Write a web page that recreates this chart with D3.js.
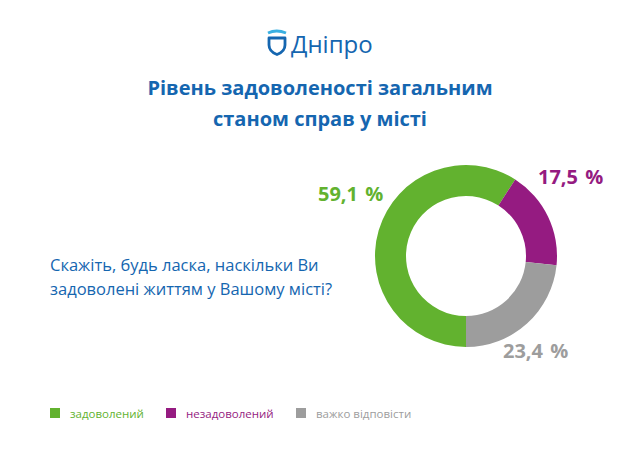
<!DOCTYPE html>
<html>
<head>
<meta charset="utf-8">
<script src="https://cdn.jsdelivr.net/npm/d3@7"></script>
<style>
  body { margin: 0; background: #fff; }
  svg { display: block; font-family: "Open Sans", "Noto Sans", sans-serif; }
</style>
</head>
<body>
<div id="chart"></div>
<script>
// data
var categories = ["задоволений", "незадоволений", "важко відповісти"];
var shares = [59.1, 17.5, 23.4];
var shareLabels = ["59,1 %", "17,5 %", "23,4 %"];
var colors = ["#62b22f", "#951b81", "#9d9d9d"];

var titleLines = ["Рівень задоволеності загальним", "станом справ у місті"];
var questionLines = ["Скажіть, будь ласка, наскільки Ви", "задоволені життям у Вашому місті?"];

var WIDTH = 640, HEIGHT = 452;
var blue = "#1566b0";

var svg = d3.select("#chart").append("svg")
    .attr("width", WIDTH)
    .attr("height", HEIGHT);

// logo
var logo = svg.append("g").attr("transform", "translate(267,28)");
logo.append("path")
    .attr("d", "M1,5 Q9.5,1 19,5")
    .attr("fill", "none").attr("stroke", "#3ab0e2").attr("stroke-width", 2.8);
logo.append("path")
    .attr("d", "M2,10 L18,10 L18,17 Q18,23.5 10,26.5 Q2,23.5 2,17 Z")
    .attr("fill", "none").attr("stroke", blue).attr("stroke-width", 2.8)
    .attr("stroke-linejoin", "round");
svg.append("text")
    .attr("x", 291).attr("y", 53)
    .attr("fill", blue)
    .style("font-size", "24px")
    .text("Дніпро");

// title
svg.append("g").selectAll("text")
  .data(titleLines)
  .join("text")
    .attr("x", 320)
    .attr("y", (d, i) => 95 + i * 31)
    .attr("text-anchor", "middle")
    .attr("fill", blue)
    .style("font-size", "20px")
    .style("font-weight", "bold")
    .text(d => d);

// question
svg.append("g").selectAll("text")
  .data(questionLines)
  .join("text")
    .attr("x", 50)
    .attr("y", (d, i) => 271 + i * 24)
    .attr("fill", blue)
    .style("font-size", "16.5px")
    .text(d => d);

// donut
var cx = 466, cy = 256, outerR = 91, innerR = 60;
var pie = d3.pie().sort(null).startAngle(Math.PI).endAngle(3 * Math.PI);
var arc = d3.arc().innerRadius(innerR).outerRadius(outerR);
var arcs = pie(shares);

var donut = svg.append("g").attr("transform", `translate(${cx},${cy})`);
donut.selectAll("path")
  .data(arcs)
  .join("path")
    .attr("d", arc)
    .attr("fill", (d, i) => colors[i]);

// value labels placed outside the ring
var labelPos = [
  { x: 318, y: 201 },
  { x: 538, y: 184 },
  { x: 503, y: 358 }
];
svg.append("g").selectAll("text")
  .data(arcs)
  .join("text")
    .attr("x", (d, i) => labelPos[i].x)
    .attr("y", (d, i) => labelPos[i].y)
    .attr("fill", (d, i) => colors[i])
    .style("font-size", "20px")
    .style("font-weight", "bold")
    .style("word-spacing", "2px")
    .text((d, i) => shareLabels[i]);

// legend
var legendX = [50, 166, 296];
var legend = svg.append("g").selectAll("g")
  .data(categories)
  .join("g")
    .attr("transform", (d, i) => `translate(${legendX[i]},408)`);
legend.append("rect")
    .attr("width", 10).attr("height", 10)
    .attr("fill", (d, i) => colors[i]);
legend.append("text")
    .attr("x", 20).attr("y", 9.5)
    .attr("fill", (d, i) => colors[i])
    .style("font-size", "11.5px")
    .text(d => d);
</script>
</body>
</html>
